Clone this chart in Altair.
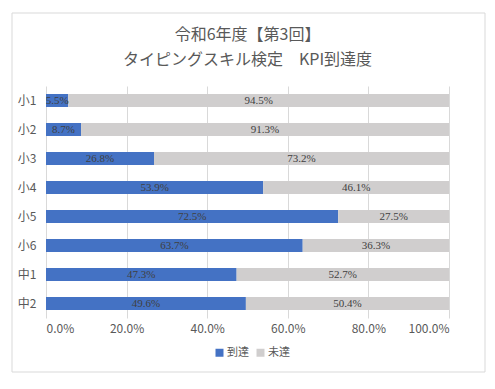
import altair as alt
import pandas as pd

grades = ["小1", "小2", "小3", "小4", "小5", "小6", "中1", "中2"]
reached = [5.5, 8.7, 26.8, 53.9, 72.5, 63.7, 47.3, 49.6]
not_reached = [94.5, 91.3, 73.2, 46.1, 27.5, 36.3, 52.7, 50.4]
series = ["到達", "未達"]
colors = ["#4472C4", "#D0CECE"]
x_ticks = [0, 0.2, 0.4, 0.6, 0.8, 1.0]
title_lines = ["令和6年度【第3回】", "タイピングスキル検定　KPI到達度"]

rows = []
for g, a, b in zip(grades, reached, not_reached):
    rows.append({"grade": g, "series": series[0], "ord": 0, "value": a / 100})
    rows.append({"grade": g, "series": series[1], "ord": 1, "value": b / 100})
df = pd.DataFrame(rows)

FONT = "Noto Sans CJK JP"

base = alt.Chart(df).transform_stack(
    stack="value", groupby=["grade"], sort=[alt.SortField("ord")], as_=["v0", "v1"]
).transform_calculate(mid="(datum.v0 + datum.v1) / 2")

y_enc = alt.Y("grade:N", sort=grades, title=None,
              axis=alt.Axis(ticks=False, domain=False, grid=False, labelPadding=10,
                            labelFontSize=12, labelColor="#595959", labelFont=FONT))

bars = base.mark_bar(size=13).encode(
    x=alt.X("v0:Q", scale=alt.Scale(domain=[0, 1]), title=None,
            axis=alt.Axis(values=x_ticks, format=".1%", ticks=False, domain=False,
                          grid=True, gridColor="#D9D9D9", labelFontSize=12,
                          labelColor="#595959", labelFont=FONT, labelPadding=5)),
    x2="v1:Q",
    y=y_enc,
    color=alt.Color("series:N", scale=alt.Scale(domain=series, range=colors),
                    sort=series,
                    legend=alt.Legend(title=None, orient="none", direction="horizontal",
                                      legendX=168, legendY=261,
                                      symbolType="square", symbolSize=64,
                                      symbolStrokeWidth=0, labelFontSize=11,
                                      labelColor="#595959", labelFont=FONT,
                                      columnPadding=6, labelOffset=2)),
    order=alt.Order("ord:Q"),
)

labels = base.mark_text(font="Liberation Serif", fontSize=11, color="#404040").encode(
    x="mid:Q",
    y=alt.Y("grade:N", sort=grades),
    text=alt.Text("value:Q", format=".1%"),
)

border = alt.Chart(pd.DataFrame({"a": [0]})).mark_rect(
    fill=None, stroke="#D9D9D9", strokeWidth=1
).encode(
    x=alt.value(-34), x2=alt.value(439), y=alt.value(-73), y2=alt.value(286)
)

chart = alt.layer(border, bars, labels).properties(
    width=403, height=232,
    title=alt.TitleParams(text=title_lines, fontSize=16, font=FONT, fontWeight="normal",
                          color="#595959", anchor="middle", lineHeight=25, offset=-55),
    autosize=alt.AutoSizeParams(type="none"),
    padding={"left": 38, "top": 78, "right": 38, "bottom": 63},
).configure_view(stroke=None)

chart.save("out.html", embed_options={"renderer": "svg", "actions": False})
